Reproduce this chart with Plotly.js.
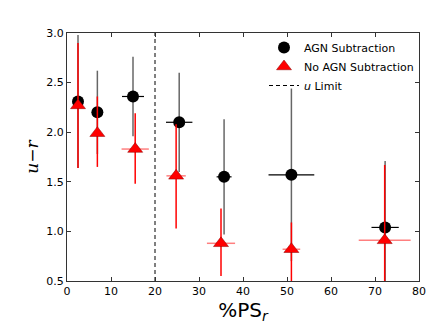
<!DOCTYPE html>
<html>
<head>
<meta charset="utf-8">
<script src="https://cdn.plot.ly/plotly-3.0.1.min.js"></script>
<style>
  body { margin: 0; background: #fff; }
  #chart { width: 442px; height: 331px; }
</style>
</head>
<body>
<div id="chart"></div>
<script>
// AGN subtracted colours (black circles)
var agnX = [2.5, 6.9, 15.0, 25.5, 35.7, 51.0, 72.3];
var agnY = [2.31, 2.20, 2.36, 2.10, 1.55, 1.57, 1.04];
var agnYErr = [0.67, 0.42, 0.40, 0.50, 0.58, 0.87, 0.67];
var agnXErr = [0.8, 0.8, 2.5, 3.0, 1.7, 5.2, 3.1];

// no AGN subtraction (red triangles)
var noAgnX = [2.5, 6.9, 15.5, 24.8, 35.0, 51.0, 72.2];
var noAgnY = [2.27, 1.99, 1.83, 1.56, 0.88, 0.82, 0.91];
var noAgnYErrUp = [0.63, 0.37, 0.36, 0.52, 0.35, 0.27, 0.76];
var noAgnYErrDown = [0.63, 0.34, 0.35, 0.53, 0.33, 0.45, 0.76];
var noAgnXErr = [1.0, 0.8, 3.1, 2.2, 3.2, 2.0, 5.9];

// u band limit
var uLimit = 20;
var yRange = [0.5, 3.0];

var limitTrace = {
    x: [uLimit, uLimit],
    y: yRange,
    mode: 'lines',
    name: '<i>u</i> Limit',
    legendrank: 3,
    line: {color: 'black', width: 1, dash: '4px,3px'},
    hoverinfo: 'skip'
};

var agnTrace = {
    x: agnX,
    y: agnY,
    mode: 'markers',
    name: 'AGN Subtraction',
    legendrank: 1,
    marker: {symbol: 'circle', size: 12, color: 'black'},
    error_y: {type: 'data', array: agnYErr, color: 'rgba(0,0,0,0.6)', thickness: 1.5, width: 0},
    error_x: {type: 'data', array: agnXErr, color: 'black', thickness: 1.2, width: 0}
};

var noAgnTrace = {
    x: noAgnX,
    y: noAgnY,
    mode: 'markers',
    name: 'No AGN Subtraction',
    legendrank: 2,
    marker: {symbol: 'triangle-up', size: 13, color: 'red', line: {color: '#8b0000', width: 0.5}},
    error_y: {type: 'data', symmetric: false, array: noAgnYErrUp, arrayminus: noAgnYErrDown,
              color: 'red', thickness: 1.5, width: 0},
    error_x: {type: 'data', array: noAgnXErr, color: 'rgba(255,0,0,0.5)', thickness: 1.5, width: 0}
};

var layout = {
    width: 442,
    height: 331,
    margin: {l: 67, r: 23, t: 33, b: 50},
    paper_bgcolor: 'white',
    plot_bgcolor: 'white',
    font: {family: 'DejaVu Sans', size: 11, color: 'black'},
    showlegend: true,
    legend: {
        x: 1, y: 1, xanchor: 'right', yanchor: 'top',
        bgcolor: 'rgba(0,0,0,0)',
        font: {size: 11},
        tracegroupgap: 0
    },
    xaxis: {
        range: [0, 80],
        dtick: 10,
        ticks: 'inside',
        ticklen: 4,
        tickcolor: '#333',
        showline: true,
        linecolor: '#333',
        mirror: 'ticks',
        showgrid: false,
        zeroline: false,
        title: {text: '%PS<sub><i>r</i></sub>', font: {size: 20}, standoff: 0}
    },
    yaxis: {
        range: yRange,
        dtick: 0.5,
        tickformat: '.1f',
        ticks: 'inside',
        ticklen: 4,
        tickcolor: '#333',
        showline: true,
        linecolor: '#333',
        mirror: 'ticks',
        showgrid: false,
        zeroline: false,
        title: {text: '<i>u</i>\u2212<i>r</i>', font: {family: 'DejaVu Serif', size: 17}, standoff: 3}
    }
};

Plotly.newPlot('chart', [limitTrace, agnTrace, noAgnTrace], layout, {displayModeBar: false});
</script>
</body>
</html>
